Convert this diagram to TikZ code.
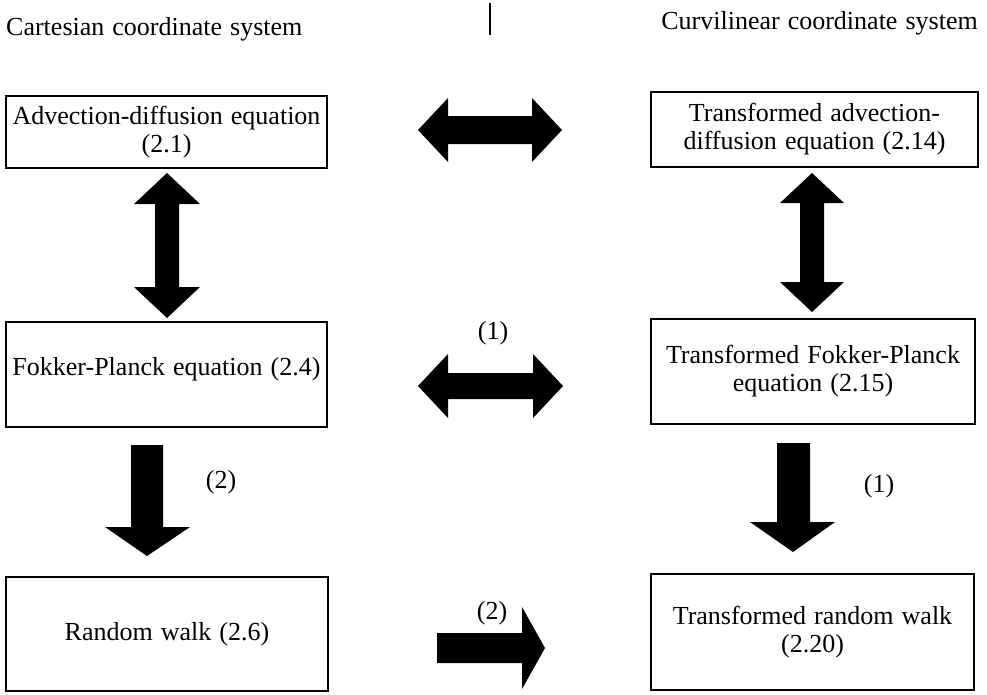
\documentclass[tikz,border=0pt]{standalone}
\usepackage{fontspec}
\setmainfont{Liberation Serif}
\newcommand\mywordspace{\spaceskip=0.31em\relax}
\begin{document}
\begin{tikzpicture}[x=1pt,y=-1pt,
  txt/.style={font=\fontsize{26}{28}\selectfont\mywordspace, align=center, inner sep=0pt},
  box/.style={draw, line width=1.6pt, inner sep=0pt, txt},
  blk/.style={fill=black, draw=none}]
\useasboundingbox (0,0) rectangle (987,694);
% headers
\node[txt, anchor=base west] (hl) at (6,35) {Cartesian coordinate system};
\node[txt, anchor=base east] (hr) at (978,29) {Curvilinear coordinate system};
\draw[line width=1.8pt] (490,3) -- (490,35);
% boxes
\node[box, minimum width=321pt, minimum height=72pt] (b1) at (166.5,132) {Advection-diffusion equation\\(2.1)};
\node[box, minimum width=327pt, minimum height=75pt] (b2) at (814.5,129.5) {Transformed advection-\\diffusion equation (2.14)};
\node[box, minimum width=321pt, minimum height=105pt] (b3) at (166.5,374.5) {};
\node[txt] (t3) at (166.5,369) {Fokker-Planck equation (2.4)};
\node[box, minimum width=324pt, minimum height=105pt] (b4) at (813,371.5) {Transformed Fokker-Planck\\equation (2.15)};
\node[box, minimum width=322pt, minimum height=114pt] (b5) at (167,634) {Random walk (2.6)};
\node[box, minimum width=323pt, minimum height=116pt] (b6) at (812.5,632) {Transformed random walk\\(2.20)};
% block arrows
\fill[blk] (418,130) -- (448,98) -- (448,116) -- (532,116) -- (532,98) -- (562,130) -- (532,162) -- (532,144) -- (448,144) -- (448,162) -- cycle;
\fill[blk] (418,386) -- (448,354) -- (448,373) -- (533,373) -- (533,354) -- (563,386) -- (533,418) -- (533,399) -- (448,399) -- (448,418) -- cycle;
\fill[blk] (167,173) -- (200,204) -- (179,204) -- (179,287) -- (200,287) -- (167,318) -- (134,287) -- (155,287) -- (155,204) -- (134,204) -- cycle;
\fill[blk] (812,173) -- (844,203) -- (824,203) -- (824,282) -- (844,282) -- (812,312) -- (780,282) -- (800,282) -- (800,203) -- (780,203) -- cycle;
\fill[blk] (131,445) -- (163,445) -- (163,527) -- (190,527) -- (147,556) -- (105,527) -- (131,527) -- cycle;
\fill[blk] (777,443) -- (810,443) -- (810,522) -- (835,522) -- (793,552) -- (750,522) -- (777,522) -- cycle;
\fill[blk] (437,633) -- (522,633) -- (522,607) -- (545,648) -- (522,689) -- (522,663) -- (437,663) -- cycle;
% labels
\node[txt] (l1) at (493,333) {(1)};
\node[txt] (l2) at (221,482) {(2)};
\node[txt] (l3) at (879,486) {(1)};
\node[txt] (l4) at (492,613) {(2)};
\end{tikzpicture}
\end{document}
